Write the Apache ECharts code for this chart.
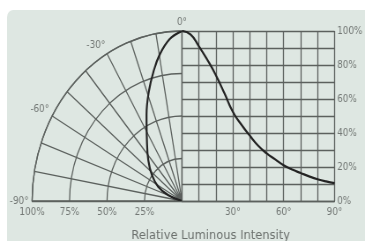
<!DOCTYPE html>
<html>
<head>
<meta charset="utf-8">
<script src="https://cdn.jsdelivr.net/npm/echarts@6/dist/echarts.min.js"></script>
<style>
 html, body { margin: 0; padding: 0; background: #fff; overflow: hidden; }
 #wrap { width: 365px; height: 241px; overflow: hidden; }
 /* the original diagram is squeezed sideways (polar part is an ellipse), so draw on a
    wider canvas and compress it horizontally */
 #chart { width: 414px; height: 241px; transform: scaleX(0.8816); transform-origin: 0 0; }
</style>
</head>
<body>
<div id="wrap"><div id="chart"></div></div>
<script>
// intensity vs angle, cartesian part (degrees, %)
var rightAngles = [0, 5, 10, 15, 20, 25, 30, 35, 40, 45, 50, 55, 60, 65, 70, 75, 80, 85, 90];
var rightIntensity = [100, 98, 91, 83, 74, 63.5, 52.5, 45, 38.5, 32.5, 28, 24.5, 21, 18.5, 16.5, 14.5, 12.8, 11.5, 10.5];

// polar part
var polarAngles = [0, -5, -10, -14, -19, -25, -33, -43, -53, -62, -69, -90];
var polarIntensity = [100, 95.5, 87, 78.5, 68, 56, 43, 33, 25, 18, 10, 0];

var gridColor = '#5c615e';
var labelColor = '#737875';
var font = 'DejaVu Sans';

var chart = echarts.init(document.getElementById('chart'));

var polarData = polarAngles.map(function (a, i) { return [polarIntensity[i], a]; });
var rightData = rightAngles.map(function (a, i) { return [a, rightIntensity[i]]; });

var option = {
    backgroundColor: '#ffffff',
    animation: false,
    graphic: [{
        type: 'rect', z: -10, silent: true,
        shape: { x: 8, y: 10, width: 420, height: 240, r: 7 },
        style: { fill: '#dee7e2' }
    }],
    title: {
        text: 'Relative Luminous Intensity',
        left: 144, top: 224,
        textStyle: { fontFamily: font, fontSize: 13, fontWeight: 'normal', color: '#6c716e' }
    },
    polar: { center: [206.4, 201], radius: 170 },
    angleAxis: {
        type: 'value', min: -90, max: 0, interval: 10,
        startAngle: 180, endAngle: 90, clockwise: true,
        axisLine: { show: true, lineStyle: { color: gridColor, width: 1.3 } },
        axisTick: { show: false },
        splitLine: { show: true, lineStyle: { color: gridColor, width: 1.3 } },
        axisLabel: {
            margin: 4, color: labelColor, fontFamily: font, fontSize: 10,
            formatter: function (v) { return v % 30 === 0 ? v + '°' : ''; }
        }
    },
    radiusAxis: {
        type: 'value', min: 0, max: 100, interval: 25,
        axisLine: { show: true, lineStyle: { color: gridColor, width: 1.3 } },
        axisTick: { show: false },
        splitLine: { show: true, lineStyle: { color: gridColor, width: 1.3 } },
        axisLabel: {
            margin: 6, color: labelColor, fontFamily: font, fontSize: 10,
            formatter: function (v) { return v > 0 ? v + '%' : ''; }
        }
    },
    grid: { left: 206.4, top: 31, width: 175.8, height: 170 },
    xAxis: {
        type: 'value', min: 0, max: 90, interval: 10,
        axisLine: { show: true, lineStyle: { color: gridColor, width: 1.3 } },
        axisTick: { show: false },
        splitLine: { show: true, lineStyle: { color: gridColor, width: 1.3 } },
        axisLabel: {
            margin: 6, color: labelColor, fontFamily: font, fontSize: 10,
            formatter: function (v) { return v > 0 && v % 30 === 0 ? v + '°' : ''; }
        }
    },
    yAxis: {
        type: 'value', min: 0, max: 100, interval: 10, position: 'right',
        axisLine: { show: false },
        axisTick: { show: false },
        splitLine: { show: true, lineStyle: { color: gridColor, width: 1.3 } },
        axisLabel: {
            margin: 3, color: labelColor, fontFamily: font, fontSize: 10,
            formatter: function (v) { return v % 20 === 0 ? v + '%' : ''; }
        }
    },
    series: [{
        type: 'line', coordinateSystem: 'polar',
        data: polarData, smooth: 0.4, showSymbol: false,
        lineStyle: { color: '#232323', width: 2.2 }
    }, {
        type: 'line', data: rightData, smooth: 0.5, showSymbol: false,
        lineStyle: { color: '#232323', width: 2.2 }
    }]
};

chart.setOption(option);
</script>
</body>
</html>
